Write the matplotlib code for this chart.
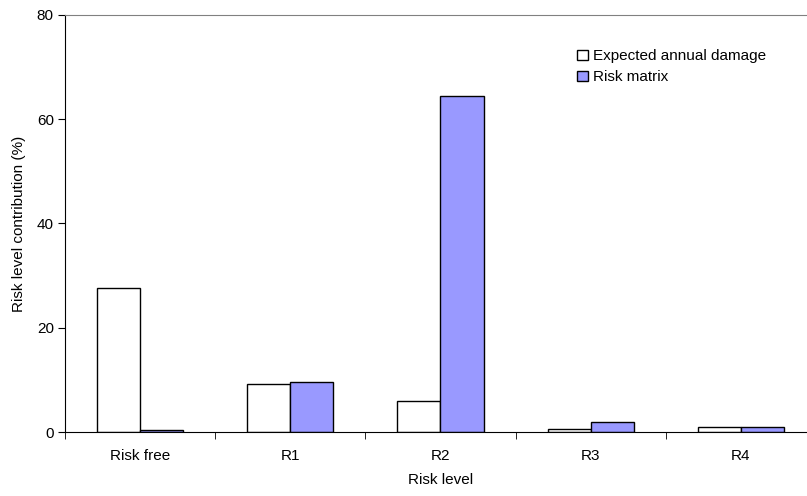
import matplotlib.pyplot as plt
import numpy as np

plt.rcParams['font.family'] = ['Liberation Sans', 'DejaVu Sans']

categories = ['Risk free', 'R1', 'R2', 'R3', 'R4']
expected_damage = [27.7, 9.2, 6.0, 0.65, 0.95]
risk_matrix = [0.45, 9.6, 64.5, 1.9, 1.0]

fig = plt.figure(figsize=(8.07, 4.96), dpi=100)
ax = fig.add_axes([0.0805, 0.1284, 0.9306, 0.842])

x = np.arange(len(categories)) + 0.5
w = 0.287
ax.bar(x - w / 2, expected_damage, w, color='white', edgecolor='black',
       linewidth=1, label='Expected annual damage')
ax.bar(x + w / 2, risk_matrix, w, color='#9999ff', edgecolor='black',
       linewidth=1, label='Risk matrix')

ax.set_xlim(0, 5)
ax.set_ylim(0, 80)
ax.set_yticks([0, 20, 40, 60, 80])
ax.set_xticks(x)
ax.set_xticklabels(categories)
ax.set_xticks(np.arange(0, 6), minor=True)
ax.tick_params(axis='x', which='major', length=0, pad=12, labelsize=11)
ax.tick_params(axis='x', which='minor', length=5, direction='out')
ax.tick_params(axis='y', length=5, direction='out', labelsize=11, pad=3)

ax.spines['right'].set_visible(False)
ax.spines['top'].set_color('#808080')
ax.spines['left'].set_color('black')
ax.spines['bottom'].set_color('black')

ax.set_xlabel('Risk level', fontsize=11, labelpad=7)
ax.set_ylabel('Risk level contribution (%)', fontsize=11, labelpad=8)

ax.legend(loc='upper left', bbox_to_anchor=(0.672, 0.935), frameon=False,
          fontsize=11, handlelength=0.7, handleheight=0.7, handletextpad=0.3,
          labelspacing=0.45, borderpad=0)

fig.savefig('out.png', dpi=100)
